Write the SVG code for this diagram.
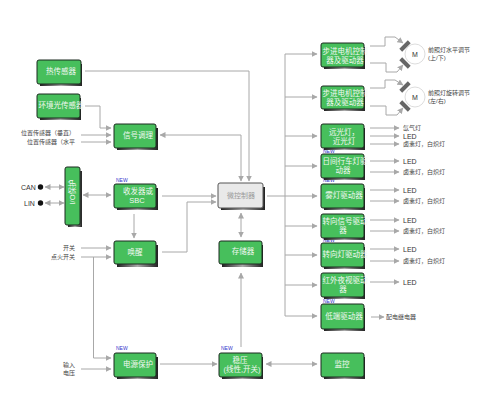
<svg xmlns="http://www.w3.org/2000/svg" width="500" height="400" viewBox="0 0 500 400">
<defs>
<linearGradient id="sh" x1="0" y1="0" x2="1" y2="0"><stop offset="0" stop-color="#222"/><stop offset="0.5" stop-color="#aaa"/><stop offset="1" stop-color="#222"/></linearGradient>
<marker id="a" markerUnits="userSpaceOnUse" markerWidth="6" markerHeight="6" refX="5.5" refY="3" orient="auto-start-reverse"><path d="M0 0L6 3L0 6z" fill="#a8a8a8"/></marker>
</defs>
<style>
text{font-family:"Liberation Sans","Noto Sans CJK SC",sans-serif}
.b{fill:#47bf5c;stroke:#1c2a20;stroke-width:1}
.g{fill:#e9e9e9;stroke:#555;stroke-width:1}
.s{fill:url(#sh)}
.t{font-size:7.5px;fill:#f2f8f2;text-anchor:middle}
.tg{font-size:7px;fill:#999;text-anchor:middle}
.l{font-size:6px;fill:#444}
.e{font-size:6px;fill:#444;text-anchor:end}
.L{font-size:7px;fill:#333}
.n{font-size:5px;fill:#3333cc}
.c path{fill:none;stroke:#a8a8a8;stroke-width:1}
.c .m{marker-end:url(#a)}
.c .d{marker-start:url(#a);marker-end:url(#a)}
</style>
<g id="connectors" class="c">
<path d="M85 71H249V181" class="m"/>
<path d="M85 106H100V128H111" class="m"/>
<path d="M81 135H111" class="m"/><path d="M81 142H111" class="m"/>
<path d="M160 135H241V181" class="d"/>
<path d="M45 187H64" class="d"/><path d="M45 203H64" class="d"/>
<path d="M83 195H111" class="d"/>
<path d="M134 214V238" class="m"/>
<path d="M162 196H216" class="m"/>
<path d="M162 252H187V202H216" class="m"/>
<path d="M81 248H111" class="m"/><path d="M81 257H111" class="m"/>
<path d="M93.500 257V358H111" class="m"/>
<path d="M81 369H111" class="m"/>
<path d="M160 364H217" class="m"/>
<path d="M241 347V273" class="m"/>
<path d="M241 213V237" class="d"/>
<path d="M266 364H317" class="d"/>
<path d="M285 54V316"/>
<path d="M267 196H317" class="m"/>
<path d="M285 54H317" class="m"/>
<path d="M285 97H317" class="m"/>
<path d="M285 136H317" class="m"/>
<path d="M285 166H317" class="m"/>
<path d="M285 226H317" class="m"/>
<path d="M285 255H317" class="m"/>
<path d="M285 285H317" class="m"/>
<path d="M285 316H317" class="m"/>
<path d="M370 46H385V37H395L403 43" class="m"/>
<path d="M370 63H386V72H397L403 65" class="m"/>
<path d="M370 88H385V80H395L403 85" class="m"/>
<path d="M370 106H386V115H397L403 108" class="m"/>
<path d="M370 128H399" class="m"/><path d="M370 136H399" class="m"/><path d="M370 144H399" class="m"/>
<path d="M370 161H399" class="m"/><path d="M370 172H399" class="m"/>
<path d="M370 190H399" class="m"/><path d="M370 201H399" class="m"/>
<path d="M370 220H399" class="m"/><path d="M370 231H399" class="m"/>
<path d="M370 249H399" class="m"/><path d="M370 261H399" class="m"/>
<path d="M370 282H399" class="m"/>
<path d="M371 317H384" class="m"/>
</g>
<g id="motors" fill="#666">
<g id="motor1"><rect x="399" y="44" width="12" height="4" transform="rotate(-45 405 46)"/><rect x="399" y="61" width="12" height="4" transform="rotate(45 405 63)"/><circle cx="415" cy="54" r="10" fill="#fff" stroke="#ddd"/><text x="415" y="57" font-size="7" text-anchor="middle" fill="#333">M</text></g>
<g id="motor2"><rect x="399" y="85" width="12" height="4" transform="rotate(-45 405 87)"/><rect x="399" y="104" width="12" height="4" transform="rotate(45 405 106)"/><circle cx="415" cy="97" r="10" fill="#fff" stroke="#ddd"/><text x="415" y="100" font-size="7" text-anchor="middle" fill="#333">M</text></g>
</g>
<g id="new-tags">
<text class="n" x="323" y="153">NEW</text>
<text class="n" x="323" y="182">NEW</text>
<text class="n" x="323" y="242">NEW</text>
<text class="n" x="323" y="303">NEW</text>
</g>
<g id="n1"><rect class="s" x="40" y="64" width="42" height="22"/><rect class="b" x="37" y="60" width="44" height="24" rx="2"/><text class="t" x="61" y="74">热传感器</text></g>
<g id="n2"><rect class="s" x="40" y="98" width="41" height="22"/><rect class="b" x="37" y="94" width="43" height="24" rx="2"/><text class="t" x="61" y="108">环境光传感器</text></g>
<g id="n3"><rect class="s" x="117" y="128" width="41" height="22"/><rect class="b" x="114" y="124" width="42" height="24" rx="2"/><text class="t" x="138" y="138">信号调理</text></g>
<g id="n4"><rect class="s" x="68" y="171" width="14" height="56"/><rect class="b" x="65" y="167" width="15" height="58" rx="2"/><text class="t" transform="translate(75 192) rotate(-90)">I/O保护</text></g>
<g id="n5"><rect class="s" x="117" y="188" width="41" height="22"/><rect class="b" x="114" y="184" width="42" height="24" rx="2"/><text class="t" x="138" y="194">收发器或</text><text class="t" x="137" y="203">SBC</text><text class="n" x="116" y="182">NEW</text></g>
<g id="n6"><rect class="s" x="117" y="245" width="41" height="22"/><rect class="b" x="114" y="241" width="42" height="23" rx="2"/><text class="t" x="135" y="255">唤醒</text></g>
<g id="n7"><rect class="s" x="117" y="357" width="41" height="22"/><rect class="b" x="114" y="353" width="42" height="24" rx="2"/><text class="t" x="138" y="367">电源保护</text><text class="n" x="116" y="350">NEW</text></g>
<g id="n8"><rect class="s" x="221" y="187" width="44" height="23"/><rect class="g" x="218" y="183" width="45" height="25" rx="2"/><text class="tg" x="241" y="198">微控制器</text></g>
<g id="n9"><rect class="s" x="222" y="245" width="41" height="22"/><rect class="b" x="219" y="241" width="43" height="23" rx="2"/><text class="t" x="243" y="254">存储器</text></g>
<g id="n10"><rect class="s" x="222" y="357" width="41" height="22"/><rect class="b" x="219" y="353" width="43" height="24" rx="2"/><text class="t" x="240" y="363">稳压</text><text class="t" x="242" y="372">(线性,开关)</text><text class="n" x="221" y="350">NEW</text></g>
<g id="n11"><rect class="s" x="324" y="357" width="41" height="22"/><rect class="b" x="321" y="353" width="43" height="24" rx="2"/><text class="t" x="342" y="367">监控</text></g>
<g id="r1"><rect class="s" x="324" y="47" width="41" height="22"/><rect class="b" x="321" y="43" width="43" height="24" rx="2"/><text class="t" x="345" y="54">步进电机控制</text><text class="t" x="345" y="63">器及驱动器</text></g>
<g id="r2"><rect class="s" x="324" y="90" width="41" height="21"/><rect class="b" x="321" y="86" width="43" height="23" rx="2"/><text class="t" x="345" y="96">步进电机控制</text><text class="t" x="345" y="105">器及驱动器</text></g>
<g id="r3"><rect class="s" x="324" y="128" width="41" height="22"/><rect class="b" x="321" y="124" width="43" height="24" rx="2"/><text class="t" x="344" y="135">远光灯，</text><text class="t" x="344" y="144">近光灯</text></g>
<g id="r4"><rect class="s" x="324" y="158" width="41" height="22"/><rect class="b" x="321" y="154" width="43" height="24" rx="2"/><text class="t" x="345" y="164">日间行车灯驱</text><text class="t" x="343" y="173">动器</text></g>
<g id="r5"><rect class="s" x="324" y="188" width="41" height="22"/><rect class="b" x="321" y="184" width="43" height="24" rx="2"/><text class="t" x="344" y="198">雾灯驱动器</text></g>
<g id="r6"><rect class="s" x="324" y="218" width="41" height="22"/><rect class="b" x="321" y="214" width="43" height="24" rx="2"/><text class="t" x="345" y="224">转向信号驱动</text><text class="t" x="343" y="233">器</text></g>
<g id="r7"><rect class="s" x="324" y="247" width="41" height="22"/><rect class="b" x="321" y="243" width="43" height="24" rx="2"/><text class="t" x="345" y="257">转向灯驱动器</text></g>
<g id="r8"><rect class="s" x="324" y="277" width="41" height="22"/><rect class="b" x="321" y="273" width="43" height="24" rx="2"/><text class="t" x="345" y="283">红外夜视驱动</text><text class="t" x="343" y="292">器</text></g>
<g id="r9"><rect class="s" x="324" y="308" width="41" height="23"/><rect class="b" x="321" y="304" width="43" height="25" rx="2"/><text class="t" x="344" y="319">低端驱动器</text></g>
<g id="labels">
<text class="e" x="75" y="135">位置传感器（垂直）</text>
<text class="e" x="75" y="144">位置传感器（水平</text>
<text class="L" x="21" y="190">CAN</text>
<text class="L" x="24" y="206">LIN</text>
<circle cx="40.500" cy="187" r="2.700" fill="#111"/><circle cx="40.500" cy="203" r="2.700" fill="#111"/>
<text class="e" x="75" y="250">开关</text>
<text class="e" x="75" y="259">点火开关</text>
<text class="e" x="75" y="367">输入</text>
<text class="e" x="75" y="375">电压</text>
<text class="l" x="428" y="52">前照灯水平调节</text>
<text class="l" x="428" y="60">(上/下)</text>
<text class="l" x="428" y="95">前照灯旋转调节</text>
<text class="l" x="428" y="103">(左/右)</text>
<text class="l" x="403" y="130">氙气灯</text>
<text class="L" x="403" y="138.500">LED</text>
<text class="l" x="403" y="146">卤素灯，白炽灯</text>
<text class="L" x="403" y="163.500">LED</text>
<text class="l" x="403" y="174">卤素灯，白炽灯</text>
<text class="L" x="403" y="192.500">LED</text>
<text class="l" x="403" y="203">卤素灯，白炽灯</text>
<text class="L" x="403" y="222.500">LED</text>
<text class="l" x="403" y="233">卤素灯，白炽灯</text>
<text class="L" x="403" y="251.500">LED</text>
<text class="l" x="403" y="263">卤素灯，白炽灯</text>
<text class="L" x="403" y="284.500">LED</text>
<text class="l" x="386" y="319">配电继电器</text>
</g>
</svg>
